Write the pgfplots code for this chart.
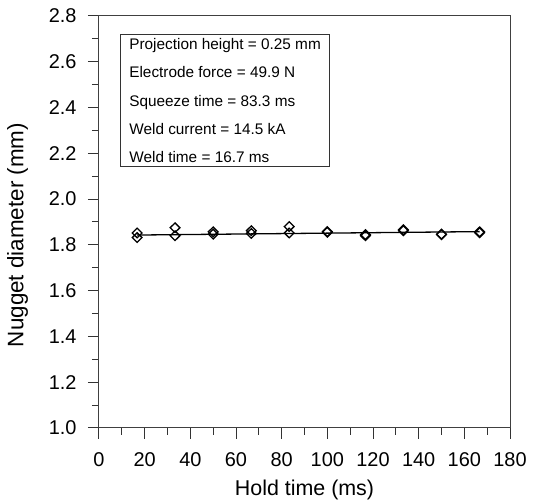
\documentclass[border=0pt]{standalone}
\usepackage{fontspec}
\setmainfont{Liberation Sans}
\usepackage{pgfplots}
\pgfplotsset{compat=1.18}

\begin{document}
\begin{tikzpicture}
\begin{axis}[
  scale only axis, width=411bp, height=412bp,
  xmin=0, xmax=180, ymin=1.0, ymax=2.8,
  xtick={0,20,...,180}, minor x tick num=1,
  ytick={1.0,1.2,1.4,1.6,1.8,2.0,2.2,2.4,2.6,2.8}, minor y tick num=1,
  yticklabel style={xshift=-8bp, /pgf/number format/.cd, fixed, fixed zerofill, precision=1},
  /pgf/number format/assume math mode=true,
  tick align=outside, tick pos=left,
  major tick length=11bp, minor tick length=7bp,
  axis line style={black!75, line width=1bp},
  every tick/.style={black!80, line width=1bp},
  tick label style={font=\fontsize{20}{24}\selectfont},
  xticklabel style={yshift=-10bp},
  xlabel style={yshift=-7bp, font=\fontsize{21.5}{25}\selectfont},
  ylabel style={yshift=14bp, xshift=-13bp, font=\fontsize{22.5}{26}\selectfont},
  xlabel={Hold time (ms)}, ylabel={Nugget diameter (mm)},
  clip=false,
]
\coordinate (O) at (rel axis cs:0,0);
% fitted line
\addplot[black, line width=1.3bp] coordinates {(16.7,1.843) (166.7,1.858)};
% measured nugget diameters
\addplot[only marks, mark=diamond, mark size=4.8bp,
  mark options={xscale=1.35, fill=white, draw=black, line width=1.3bp}]
  coordinates {
  (16.7,1.852) (16.7,1.832)
  (33.3,1.875) (33.3,1.840)
  (50,1.857) (50,1.847)
  (66.7,1.862) (66.7,1.850)
  (83.3,1.880) (83.3,1.852)
  (100,1.858) (100,1.855)
  (116.7,1.845) (116.7,1.840)
  (133.3,1.866) (133.3,1.862)
  (150,1.847) (150,1.845)
  (166.7,1.857) (166.7,1.853)
  };
\node[draw=black!80, line width=0.8bp, anchor=north west, align=left,
  inner xsep=9bp, inner ysep=4bp,
  font=\fontsize{15.4}{28.35}\selectfont]
  at (rel axis cs:0.051,0.956)
  {Projection height = 0.25 mm\\Electrode force = 49.9 N\\Squeeze time = 83.3 ms\\Weld current = 14.5 kA\\Weld time = 16.7 ms};
\end{axis}
\path (O) ++(-99bp,-70bp) rectangle ++(533bp,498bp);
\end{tikzpicture}
\end{document}
